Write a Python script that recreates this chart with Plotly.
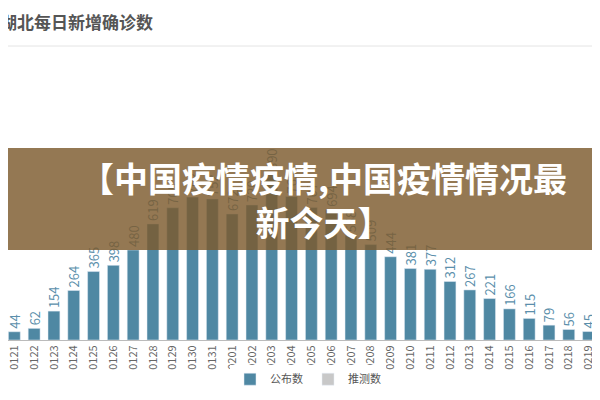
import plotly.graph_objects as go

dates = ["0121","0122","0123","0124","0125","0126","0127","0128","0129","0130",
         "0131","0201","0202","0203","0204","0205","0206","0207","0208","0209",
         "0210","0211","0212","0213","0214","0215","0216","0217","0218","0219","0220"]
published = [44,62,154,264,365,398,480,619,705,762,752,672,720,890,765,707,694,558,509,444,
             381,377,312,267,221,166,115,79,56,45,258]

fig = go.Figure()
fig.add_bar(x=dates, y=published, name="公布数", marker_color="#4f88a3", width=0.6,
            text=published, textposition="outside", textangle=-90, constraintext="none",
            textfont=dict(color="#5b8fab", size=13), cliponaxis=False)
fig.add_bar(x=[None], y=[None], name="推测数", marker_color="#c8c8c8")

fig.update_layout(
    width=600, height=400, margin=dict(l=0, r=0, t=52, b=68, autoexpand=False),
    paper_bgcolor="white", plot_bgcolor="white",
    font=dict(family="Noto Sans CJK SC"),
    uniformtext=dict(minsize=13, mode="show"),
    xaxis=dict(range=[-0.32, 29.98], tickangle=-90, tickfont=dict(size=11, color="#666"),
               showline=True, linecolor="#bbb", ticks="", type="category", automargin=False),
    yaxis=dict(range=[0, 1493], visible=False, automargin=False),
    legend=dict(orientation="h", x=0.5, xanchor="center", y=-0.14, yanchor="middle",
                font=dict(size=11, color="#555")),
    barmode="overlay",
    shapes=[
        dict(type="rect", xref="paper", yref="paper", x0=0, x1=1, y0=0.321, y1=0.686,
             fillcolor="rgba(125,90,45,0.82)", line_width=0, layer="above"),
        dict(type="line", xref="paper", yref="paper", x0=0, x1=1, y0=1.05, y1=1.05,
             line=dict(color="#e4e4e4", width=1)),
    ],
    annotations=[
        dict(text="<b>湖北每日新增确诊数</b>", xref="paper", yref="paper", x=-0.016, y=1.136,
             xanchor="left", yanchor="middle", showarrow=False,
             font=dict(size=17, color="#555")),
        dict(text="<b>【中国疫情疫情,中国疫情情况最<br>新今天】</b>", xref="paper", yref="paper",
             x=0.525, y=0.503, xanchor="center", yanchor="middle", showarrow=False,
             font=dict(size=34, color="white"), align="center"),
    ],
)
fig.write_html("out.html")
